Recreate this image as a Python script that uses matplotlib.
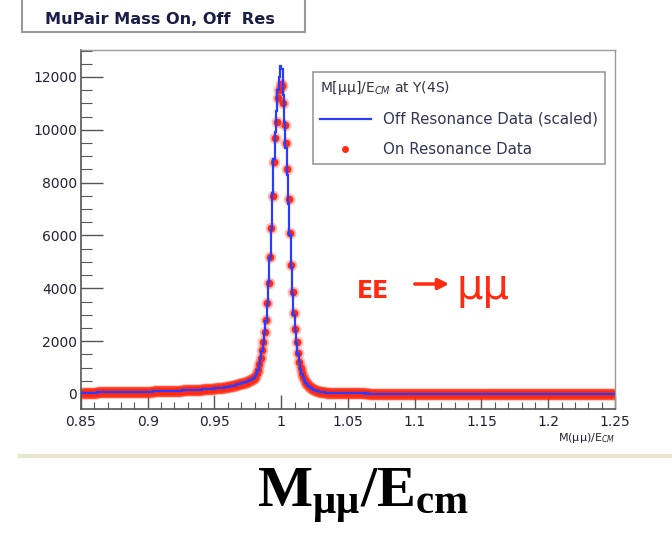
import numpy as np
import matplotlib
matplotlib.use("Agg")
import matplotlib.pyplot as plt
from matplotlib.lines import Line2D
from matplotlib.patches import Rectangle

# histogram range, 0.001 wide bins
x_lo, x_hi, n_bins = 0.85, 1.25, 400

# low side tail, 0.850 - 0.970 (same for both samples)
left_tail = [
    48, 50, 49, 51, 52, 51, 53, 54, 53, 55,
    56, 55, 57, 58, 57, 59, 60, 59, 61, 62,
    62, 63, 64, 64, 66, 65, 67, 68, 68, 70,
    70, 71, 72, 73, 73, 75, 76, 76, 78, 79,
    80, 80, 82, 83, 84, 85, 86, 88, 88, 90,
    91, 92, 94, 94, 96, 97, 99, 100, 101, 103,
    104, 106, 107, 109, 110, 112, 114, 115, 117, 119,
    121, 123, 125, 127, 129, 131, 133, 135, 138, 140,
    142, 145, 147, 150, 152, 155, 158, 161, 164, 167,
    170, 173, 177, 180, 184, 188, 192, 196, 200, 205,
    210, 215, 220, 226, 232, 238, 245, 252, 260, 268,
    277, 287, 297, 308, 320, 333, 347, 362, 378, 396,
]

# peak region 0.970 - 1.050, on resonance
peak_on = [
    400, 415, 432, 450, 470, 492, 516, 545, 578, 615,
    660, 780, 920, 1150, 1380, 1650, 1950, 2350, 2800, 3450,
    4200, 5200, 6300, 7500, 8800, 9700, 10300, 11200, 11500, 11750,
    11650, 11000, 10200, 9500, 8500, 7400, 6100, 4900, 3850, 3050,
    2450, 1950, 1560, 1220, 970, 780, 630, 520, 430, 360,
    300, 255, 218, 188, 162, 140, 122, 107, 94, 83,
    74, 66, 59, 53, 48, 44, 40, 37, 34, 32,
    30, 29, 27, 26, 25, 24, 23, 23, 22, 22,
]

# peak region 0.970 - 1.050, off resonance (scaled)
peak_off = [
    405, 418, 436, 452, 474, 495, 520, 548, 582, 620,
    670, 760, 900, 1120, 1350, 1620, 1920, 2300, 2750, 3400,
    4250, 5150, 6250, 7600, 8900, 9900, 10700, 11500, 12000, 12400,
    12300, 11300, 10300, 9300, 8300, 7200, 6000, 4800, 3800, 3000,
    2400, 1920, 1530, 1200, 960, 770, 625, 515, 425, 355,
    298, 252, 216, 186, 160, 139, 121, 106, 93, 82,
    73, 65, 58, 53, 48, 43, 40, 37, 34, 32,
    30, 28, 27, 26, 25, 24, 23, 23, 22, 21,
]

# high side tail, 1.050 - 1.250
right_tail = [
    21, 21, 20, 21, 20, 20, 20, 19, 20, 19,
    19, 19, 19, 18, 19, 18, 18, 18, 18, 17,
    18, 17, 17, 17, 17, 16, 17, 16, 16, 16,
    16, 16, 15, 16, 15, 15, 15, 15, 15, 14,
    15, 14, 14, 15, 14, 14, 14, 14, 13, 14,
    14, 13, 14, 13, 13, 13, 14, 13, 13, 13,
    13, 13, 12, 13, 13, 12, 13, 12, 12, 13,
    12, 12, 12, 13, 12, 12, 12, 12, 11, 12,
    12, 12, 11, 12, 12, 11, 12, 11, 12, 11,
    11, 12, 11, 11, 12, 11, 11, 11, 12, 11,
    11, 11, 11, 11, 10, 11, 11, 11, 10, 11,
    11, 10, 11, 10, 11, 10, 10, 11, 10, 10,
    10, 11, 10, 10, 10, 10, 11, 10, 10, 10,
    10, 10, 10, 9, 10, 10, 10, 9, 10, 10,
    10, 9, 10, 10, 9, 10, 9, 10, 9, 10,
    9, 10, 9, 9, 10, 9, 9, 9, 10, 9,
    9, 9, 9, 10, 9, 9, 9, 9, 9, 9,
    9, 9, 9, 9, 8, 9, 9, 9, 9, 8,
    9, 9, 8, 9, 9, 8, 9, 9, 8, 9,
    8, 9, 9, 8, 9, 8, 9, 8, 9, 8,
]

x_ticks = [0.85, 0.9, 0.95, 1.0, 1.05, 1.1, 1.15, 1.2, 1.25]
x_tick_labels = ["0.85", "0.9", "0.95", "1", "1.05", "1.1", "1.15", "1.2", "1.25"]
y_ticks = [0, 2000, 4000, 6000, 8000, 10000, 12000]

on_res = np.array(left_tail + peak_on + right_tail)
off_res = np.array(left_tail + peak_off + right_tail)
edges = np.linspace(x_lo, x_hi, n_bins + 1)
centers = 0.5 * (edges[:-1] + edges[1:])

W, H = 672, 533
fig = plt.figure(figsize=(W / 100, H / 100), dpi=100)
plt.rcParams['font.family'] = ['DejaVu Sans']

# axes box in pixels: left 81, right 615, top 50, bottom 409
ax = fig.add_axes([81 / W, 1 - 409 / H, (615 - 81) / W, (409 - 50) / H])

red = '#ff2a10'
blue = '#2b3bff'
ax.plot(centers, on_res, 'o', ms=8.5, color=red, alpha=0.3, mew=0, zorder=2)
ax.plot(centers, on_res, 'o', ms=5.5, color=red, mew=0, zorder=2)
ax.stairs(off_res, edges, color=blue, lw=1.6, zorder=3)

ax.set_xlim(x_lo, x_hi)
ax.set_ylim(-568, 13022)
ax.set_xticks(x_ticks)
ax.set_xticklabels(x_tick_labels)
ax.set_xticks(np.arange(0.85, 1.2501, 0.01), minor=True)
ax.set_yticks(y_ticks)
ax.set_yticks(np.arange(0, 13001, 500), minor=True)
tick_col = '#222236'
ax.tick_params(axis='both', which='both', direction='in', top=False, right=False,
               colors='#555555', labelcolor=tick_col, labelsize=10)
ax.tick_params(axis='y', which='major', length=16, width=1, pad=3)
ax.tick_params(axis='y', which='minor', length=8, width=0.8)
ax.tick_params(axis='x', which='major', length=10, width=1, pad=4)
ax.tick_params(axis='x', which='minor', length=5, width=0.8)
for side in ['left', 'bottom']:
    ax.spines[side].set_color('#555555')
    ax.spines[side].set_linewidth(1.2)
for side in ['top', 'right']:
    ax.spines[side].set_color('#999999')
    ax.spines[side].set_linewidth(1.0)

ax.set_xlabel(r"M(μμ)/E$_{CM}$", fontsize=8, color=tick_col, loc='right', labelpad=2)

# legend
handles = [Line2D([], [], color=blue, lw=1.6),
           Line2D([], [], ls='none', marker='o', ms=5, color=red, mew=0)]
leg = ax.legend(handles, ["Off Resonance Data (scaled)", "On Resonance Data"],
                title=r"M[μμ]/E$_{CM}$ at Υ(4S)", title_fontsize=10, fontsize=10.8,
                loc='upper left', bbox_to_anchor=(313 / W, 1 - 72 / H),
                bbox_transform=fig.transFigure, alignment='left',
                fancybox=False, framealpha=1, edgecolor='#999999',
                borderpad=0.45, handlelength=3.4, handletextpad=0.8,
                labelspacing=1.0, borderaxespad=0)
leg.get_frame().set_linewidth(1.2)
leg.get_title().set_color('#333344')
for t in leg.get_texts():
    t.set_color('#333355')

# process label
fig.text(357 / W, 1 - 291 / H, "EE", fontsize=17, fontweight='bold', color=red,
         ha='left', va='center')
ax.annotate("", xy=(452, H - 284), xytext=(412, H - 284),
            xycoords='figure pixels', textcoords='figure pixels',
            arrowprops=dict(arrowstyle='-|>', color=red, lw=2.5, mutation_scale=16))
fig.text(457 / W, 1 - 299 / H, "μμ", fontsize=30, color=red, ha='left', va='baseline')

# histogram title box at top
fig.patches.append(Rectangle((22 / W, 1 - 32 / H), 283 / W, 40 / H,
                             transform=fig.transFigure, facecolor='white',
                             edgecolor='#999999', lw=1.5))
fig.text(160 / W, 1 - 20 / H, "MuPair Mass On, Off  Res", fontsize=11.6,
         fontweight='bold', color='#1c1c48', ha='center', va='center')

# separator and slide caption
fig.add_artist(Line2D([20 / W, 1], [1 - 456 / H, 1 - 456 / H], color='#e9e6cf', lw=3,
                      transform=fig.transFigure))
plt.rcParams['mathtext.fontset'] = 'custom'
plt.rcParams['mathtext.bf'] = 'Liberation Serif:bold'
plt.rcParams['mathtext.rm'] = 'Liberation Serif:bold'
fig.text(363 / W, 1 - 507 / H, r"$\mathbf{M_{μμ}/E_{cm}}$", fontsize=42,
         ha='center', va='baseline', color='black')

fig.savefig("out.png", dpi=100)
